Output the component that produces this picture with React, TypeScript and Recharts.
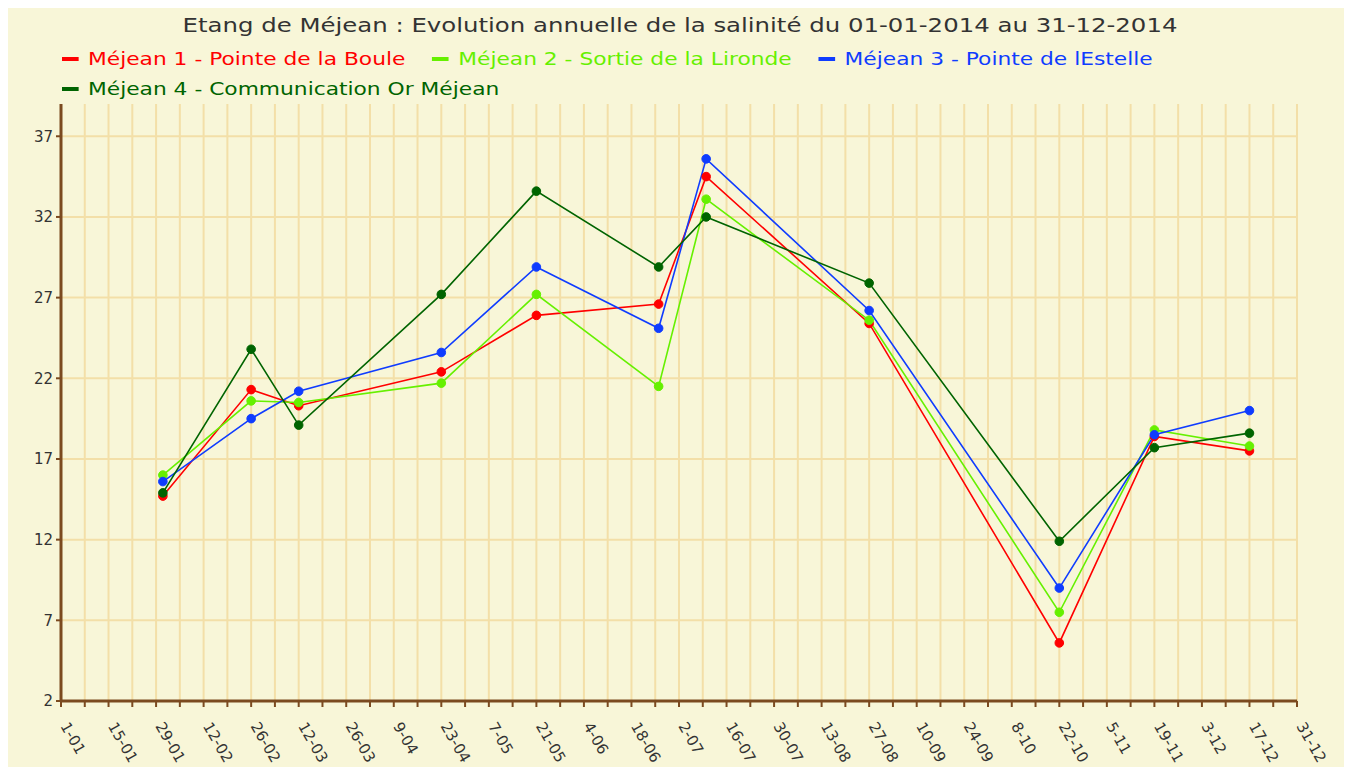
import { CartesianGrid, Line, LineChart, XAxis, YAxis } from "recharts";

// day of year (0 = 1 janvier) of each sampling
const days = [30, 56, 70, 112, 140, 176, 190, 238, 294, 322, 350];
const mejean1 = [14.7, 21.3, 20.3, 22.4, 25.9, 26.6, 34.5, 25.4, 5.6, 18.4, 17.5];
const mejean2 = [16.0, 20.6, 20.5, 21.7, 27.2, 21.5, 33.1, 25.6, 7.5, 18.8, 17.8];
const mejean3 = [15.6, 19.5, 21.2, 23.6, 28.9, 25.1, 35.6, 26.2, 9.0, 18.5, 20.0];
const mejean4 = [14.9, 23.8, 19.1, 27.2, 33.6, 28.9, 32.0, 27.9, 11.9, 17.7, 18.6];

const xLabels = [
  "1-01", "15-01", "29-01", "12-02", "26-02", "12-03", "26-03", "9-04", "23-04",
  "7-05", "21-05", "4-06", "18-06", "2-07", "16-07", "30-07", "13-08", "27-08",
  "10-09", "24-09", "8-10", "22-10", "5-11", "19-11", "3-12", "17-12", "31-12",
];
const yTicks = [2, 7, 12, 17, 22, 27, 32, 37];

const series = [
  { key: "m1", name: "Méjean 1 - Pointe de la Boule", color: "#ff0000", values: mejean1 },
  { key: "m2", name: "Méjean 2 - Sortie de la Lironde", color: "#66f000", values: mejean2 },
  { key: "m3", name: "Méjean 3 - Pointe de lEstelle", color: "#0f3cff", values: mejean3 },
  { key: "m4", name: "Méjean 4 - Communication Or Méjean", color: "#006400", values: mejean4 },
];

const data = days.map((d, i) => {
  const row: Record<string, number> = { day: d };
  series.forEach((s) => (row[s.key] = s.values[i]));
  return row;
});

// a grid line / tick every week, a label every two weeks
const weekTicks = Array.from({ length: 53 }, (_, i) => i * 7);

const AXIS = "#7b4a1f";
const FONT = "'DejaVu Sans', Verdana, sans-serif";

function XTick(props: any) {
  const { x, y, payload } = props;
  const v = payload.value as number;
  if (v % 14 !== 0) return null;
  return (
    <text
      transform={`translate(${x - 1},${y + 17}) rotate(60)`}
      fontSize={15}
      fontFamily={FONT}
      fill="#333"
      textAnchor="start"
    >
      {xLabels[v / 14]}
    </text>
  );
}

export default function App() {
  return (
    <div style={{ position: "relative", width: 1344, height: 759, background: "#f8f6d8", fontFamily: FONT }}>
      <div
        style={{
          position: "absolute", top: 5, left: 0, width: 1344, textAlign: "center",
          fontSize: 20, color: "#333", transform: "scaleX(1.22)", transformOrigin: "center",
        }}
      >
        Etang de Méjean : Evolution annuelle de la salinité du 01-01-2014 au 31-12-2014
      </div>
      <div
        style={{
          position: "absolute", top: 41, left: 54, width: 900, display: "flex", flexWrap: "wrap",
          rowGap: 10, transform: "scaleX(1.28)", transformOrigin: "left",
        }}
      >
        {series.map((s) => (
          <div key={s.key} style={{ display: "flex", alignItems: "center", marginRight: 21, color: s.color, fontSize: 17, lineHeight: "20px" }}>
            <span style={{ display: "inline-block", width: 12.5, height: 4, background: s.color, marginRight: 7.8 }} />
            {s.name}
          </div>
        ))}
      </div>
      <LineChart width={1344} height={759} data={data} margin={{ top: 96, right: 55, bottom: 0, left: 8 }}>
        <CartesianGrid stroke="#f3dfa8" strokeWidth={2} verticalValues={weekTicks} horizontalValues={yTicks} />
        <XAxis
          dataKey="day"
          type="number"
          domain={[0, 364]}
          ticks={weekTicks}
          interval={0}
          height={66}
          stroke={AXIS}
          axisLine={{ stroke: AXIS, strokeWidth: 3 }}
          tickLine={{ stroke: AXIS, strokeWidth: 2 }}
          tickSize={6}
          tick={<XTick />}
        />
        <YAxis
          type="number"
          domain={[2, 39]}
          ticks={yTicks}
          interval={0}
          width={45}
          axisLine={{ stroke: AXIS, strokeWidth: 3 }}
          tickLine={{ stroke: AXIS, strokeWidth: 2 }}
          tickSize={5}
          tickMargin={3}
          tick={{ fill: "#333", fontSize: 15, fontFamily: FONT }}
        />
        {series.map((s) => (
          <Line
            key={s.key}
            dataKey={s.key}
            name={s.name}
            type="linear"
            stroke={s.color}
            strokeWidth={1.6}
            dot={{ r: 4.3, fill: s.color, stroke: s.color, strokeWidth: 1 }}
            isAnimationActive={false}
          />
        ))}
      </LineChart>
    </div>
  );
}
